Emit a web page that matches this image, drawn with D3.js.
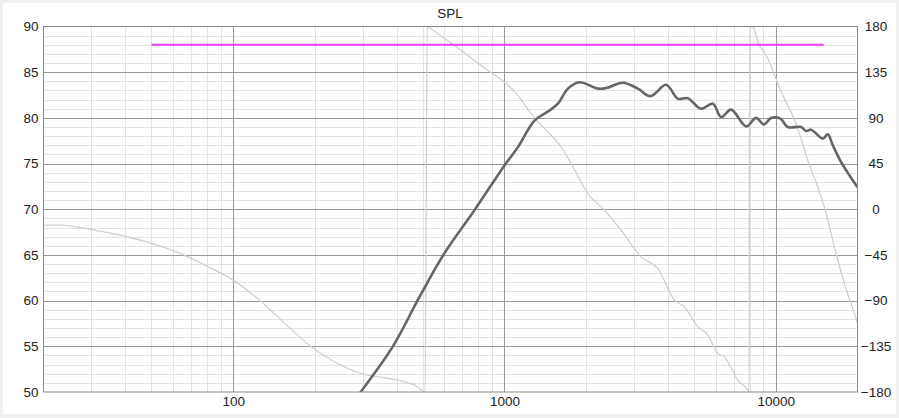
<!DOCTYPE html>
<html>
<head>
<meta charset="utf-8">
<script src="https://cdn.jsdelivr.net/npm/d3@7"></script>
<style>
  body { margin: 0; background: #f0f0f0; }
  svg { display: block; }
  text { font-family: "Liberation Sans", Arial, sans-serif; fill: #222; }
</style>
</head>
<body>
<svg id="chart" width="899" height="418"></svg>
<script>
// SPL magnitude (dB) against frequency (Hz)
const splFreq = [280, 295, 388, 486, 601, 775, 1000, 1121, 1290, 1465, 1573, 1713, 1889, 2209, 2370, 2731, 3101, 3451, 3944, 4354, 4739, 5305, 5860, 6289, 6844, 7774, 8460, 9031, 9609, 10397, 11070, 12395, 12934, 13490, 14900, 15545, 16220, 17400, 18670, 20000]
const splDb = [49.1, 50, 55, 60.4, 65.2, 69.9, 74.8, 76.8, 79.7, 80.8, 81.55, 83.2, 83.9, 83.2, 83.26, 83.85, 83.2, 82.38, 83.63, 82.1, 82.16, 81.0, 81.55, 80.09, 80.9, 79.07, 80.0, 79.29, 79.98, 79.91, 79.0, 79.0, 78.56, 78.71, 77.73, 78.2, 77.0, 75.17, 73.72, 72.4]

// phase (degrees, wrapped) against frequency (Hz)
const phaseFreq = [20, 23, 30, 40, 50, 66, 81, 100, 125, 155, 194, 236, 296, 372, 428, 470, 510, 519, 540, 654, 869, 1000, 1121, 1254, 1404, 1618, 1761, 2029, 2336, 2692, 3190, 3674, 4231, 4605, 5160, 5616, 6113, 6467, 7244, 7886, 7970, 8010, 8230, 8700, 9078, 9748, 10170, 10757, 11386, 12218, 13121, 14280, 15325, 16441, 17893, 19484, 20000]
const phaseDeg = [-15.7, -15.7, -20, -26.6, -33.7, -45.2, -56.7, -69.8, -89.5, -112.4, -135.4, -150.2, -161.6, -166.5, -170, -173.5, -180, 180, 177, 161.3, 136.7, 125.2, 112.1, 94.1, 79.4, 61.3, 45, 15.4, -1, -20.7, -46.9, -58.3, -89.5, -96.1, -115.8, -123.9, -141.9, -145.3, -168.2, -178, -180, 180, 179.3, 161.3, 154.7, 136.7, 123.6, 108.9, 95.7, 74.5, 48.2, 21.9, -4.2, -37.1, -73.1, -102.6, -112]

// target line
const targetFreq = [50, 15000]
const targetDb = [88, 88]

const leftTicks = [50, 55, 60, 65, 70, 75, 80, 85, 90]
const rightTicks = [-180, -135, -90, -45, 0, 45, 90, 135, 180]
const freqTicks = [100, 1000, 10000]

const svg = d3.select('#chart')

svg.append('rect')
    .attr('x', 3).attr('y', 3)
    .attr('width', 893).attr('height', 411)
    .attr('fill', '#fff')

let plotLeft = 43.5, plotRight = 857.5, plotTop = 26.5, plotBottom = 392

let x = d3.scaleLog().domain([20, 20000]).range([plotLeft, plotRight])
let y = d3.scaleLinear().domain([50, 90]).range([plotBottom, plotTop])
let yPhase = d3.scaleLinear().domain([-180, 180]).range([plotBottom, plotTop])

let grid = svg.append('g')

// minor vertical lines at 2..9 of each decade
let minorX = []
;[10, 100, 1000, 10000].forEach(function(d) {
  for (let k = 2; k <= 9; k++) {
    let f = d * k
    if (f > 20 && f < 20000) minorX.push(f)
  }
})
let minorY = d3.range(51, 90).filter(function(v) { return v % 5 !== 0 })

grid.selectAll('.vminor')
    .data(minorX)
  .enter().append('line')
    .attr('x1', function(d) { return Math.round(x(d)) + 0.5 })
    .attr('x2', function(d) { return Math.round(x(d)) + 0.5 })
    .attr('y1', plotTop).attr('y2', plotBottom)
    .style('stroke', '#e2e2e2')

grid.selectAll('.hminor')
    .data(minorY)
  .enter().append('line')
    .attr('x1', plotLeft).attr('x2', plotRight)
    .attr('y1', function(d) { return Math.round(y(d)) + 0.5 })
    .attr('y2', function(d) { return Math.round(y(d)) + 0.5 })
    .style('stroke', '#e2e2e2')

grid.selectAll('.vmajor')
    .data(freqTicks)
  .enter().append('line')
    .attr('x1', function(d) { return Math.round(x(d)) + 0.5 })
    .attr('x2', function(d) { return Math.round(x(d)) + 0.5 })
    .attr('y1', plotTop).attr('y2', plotBottom)
    .style('stroke', '#999')

grid.selectAll('.hmajor')
    .data(leftTicks.slice(1, -1))
  .enter().append('line')
    .attr('x1', plotLeft).attr('x2', plotRight)
    .attr('y1', function(d) { return Math.round(y(d)) + 0.5 })
    .attr('y2', function(d) { return Math.round(y(d)) + 0.5 })
    .style('stroke', '#999')

let plot = svg.append('g')

svg.append('clipPath').attr('id', 'clip')
  .append('rect')
    .attr('x', plotLeft).attr('y', plotTop)
    .attr('width', plotRight - plotLeft).attr('height', plotBottom - plotTop)

let phaseLine = d3.line()
    .x(function(d) { return x(d[0]) })
    .y(function(d) { return yPhase(d[1]) })
    .curve(d3.curveMonotoneX)

plot.append('path')
    .datum(phaseFreq.map(function(f, i) { return [f, phaseDeg[i]] }))
    .attr('d', phaseLine)
    .attr('clip-path', 'url(#clip)')
    .style('fill', 'none')
    .style('stroke', '#cfcfcf')
    .style('stroke-width', 1.3)

let splLine = d3.line()
    .x(function(d) { return x(d[0]) })
    .y(function(d) { return y(d[1]) })
    .curve(d3.curveCatmullRom)

plot.append('path')
    .datum(splFreq.map(function(f, i) { return [f, splDb[i]] }))
    .attr('d', splLine)
    .attr('clip-path', 'url(#clip)')
    .style('fill', 'none')
    .style('stroke', '#666')
    .style('stroke-width', 2.6)
    .style('stroke-linejoin', 'round')

plot.append('path')
    .datum(targetFreq.map(function(f, i) { return [f, targetDb[i]] }))
    .attr('d', d3.line().x(function(d) { return x(d[0]) }).y(function(d) { return y(d[1]) }))
    .style('fill', 'none')
    .style('stroke', '#f03cf0')
    .style('stroke-width', 2)

// frame
svg.append('rect')
    .attr('x', plotLeft).attr('y', plotTop)
    .attr('width', plotRight - plotLeft).attr('height', plotBottom - plotTop)
    .style('fill', 'none')
    .style('stroke', '#8a8a8a')

let yAxis = svg.append('g')
    .attr('transform', 'translate(' + plotLeft + ',0)')
    .call(d3.axisLeft(y).tickValues(leftTicks).tickSize(0).tickPadding(5))

let yAxisRight = svg.append('g')
    .attr('transform', 'translate(' + plotRight + ',0)')
    .call(d3.axisRight(yPhase).tickValues(rightTicks).tickSize(0).tickPadding(0))

yAxisRight.selectAll('text')
    .attr('x', 876 - plotRight)
    .style('text-anchor', 'middle')

let xAxis = svg.append('g')
    .attr('transform', 'translate(0,' + plotBottom + ')')
    .call(d3.axisBottom(x).tickValues(freqTicks).tickFormat(d3.format('d')).tickSize(0).tickPadding(4))

;[xAxis, yAxis, yAxisRight].forEach(function(a) {
  a.select('.domain').remove()
  a.selectAll('text')
      .style('font-family', '"Liberation Sans", Arial, sans-serif')
      .style('font-size', '13.5px')
      .style('fill', '#222')
})

svg.append('text')
    .attr('x', 450)
    .attr('y', 18)
    .style('text-anchor', 'middle')
    .style('font-size', '13.5px')
    .text('SPL')
</script>
</body>
</html>
